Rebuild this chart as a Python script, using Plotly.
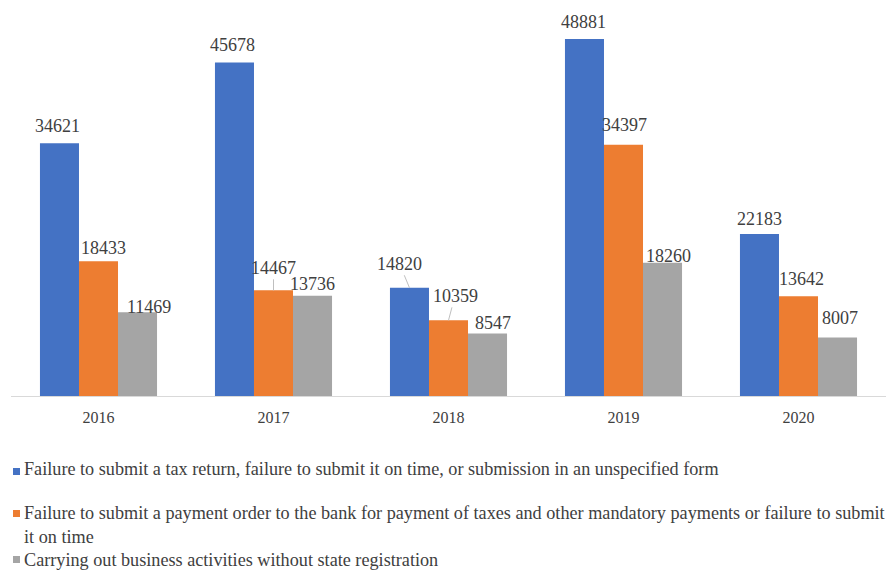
import plotly.graph_objects as go

# ---- data -------------------------------------------------------------
years = ["2016", "2017", "2018", "2019", "2020"]
tax_return = [34621, 45678, 14820, 48881, 22183]
payment_order = [18433, 14467, 10359, 34397, 13642]
no_registration = [11469, 13736, 8547, 18260, 8007]

series_names = [
    "Failure to submit a tax return, failure to submit it on time, or submission in an unspecified form",
    "Failure to submit a payment order to the bank for payment of taxes and other mandatory payments or failure to submit<br>it on time",
    "Carrying out business activities without state registration",
]
series_values = [tax_return, payment_order, no_registration]
colors = ["#4472C4", "#ED7D31", "#A5A5A5"]

# ---- geometry ---------------------------------------------------------
W, H = 888, 570
ML, MR, MT, MB = 11, 2, 20, 174
PW, PH = W - ML - MR, H - MT - MB
BARGAP = 0.331
Y_MAX = 51482
BAR_W = PW / len(years) * (1 - BARGAP) / 3


def px_x(px):
    return (px - ML) / PW


def px_y(py):
    return (H - MB - py) / PH


SERIF = "Liberation Serif"

fig = go.Figure()
for name, vals, col in zip(series_names, series_values, colors):
    fig.add_trace(go.Bar(x=years, y=vals, name=name, marker=dict(color=col, line_width=0),
                         showlegend=False))

# data-label placement (dx, dy in px from bar-top centre to label centre)
label_offsets = [
    [(-1.5, -17), (-1.5, -17.5), (-10, -24), (-0.5, -17), (0, -15)],
    [(5, -13.5), (0, -22.5), (6.5, -24.5), (0.5, -20), (2.5, -17.5)],
    [(11.5, -5.5), (0, -11.5), (5, -10.5), (5.5, -7), (2.5, -19.5)],
]
leader = {(1, 1), (0, 2), (1, 2)}

annotations = []
for si, vals in enumerate(series_values):
    bar_shift = (si - 1) * BAR_W
    for yi, v in enumerate(vals):
        dx, dy = label_offsets[si][yi]
        # category position index on the x axis
        common = dict(x=yi, y=v, xref="x", yref="y", text=str(v),
                      font=dict(family=SERIF, size=18, color="#404040"))
        if (si, yi) in leader:
            annotations.append(dict(**common, showarrow=True, arrowhead=0, arrowwidth=1,
                                    arrowcolor="#BFBFBF", ax=dx, ay=dy, standoff=0,
                                    xshift=bar_shift))
        else:
            annotations.append(dict(**common, showarrow=False, xanchor="center", yanchor="middle",
                                    xshift=bar_shift + dx, yshift=-dy))

# legend rows: (text top, square top, square bottom)
legend_rows = [(457, 468, 475), (501, 510, 517), (548, 556, 563)]
shapes = []
for (top, sq0, sq1), name, col in zip(legend_rows, series_names, colors):
    annotations.append(dict(x=px_x(22), y=px_y(top), xref="paper", yref="paper",
                            xanchor="left", yanchor="top", align="left", showarrow=False,
                            text=name, font=dict(family=SERIF, size=18.2, color="#404040")))
    shapes.append(dict(type="rect", xref="paper", yref="paper",
                       x0=px_x(13), x1=px_x(20), y0=px_y(sq1), y1=px_y(sq0),
                       fillcolor=col, line_width=0))

fig.update_layout(
    width=W, height=H,
    margin=dict(l=ML, r=MR, t=MT, b=MB),
    paper_bgcolor="white", plot_bgcolor="white",
    barmode="group", bargap=BARGAP, bargroupgap=0,
    xaxis=dict(type="category", range=[-0.5, len(years) - 0.5], showline=True,
               linecolor="#D9D9D9", linewidth=1, ticks="", ticklabelstandoff=7,
               tickfont=dict(family=SERIF, size=16, color="#404040"), showgrid=False),
    yaxis=dict(range=[0, Y_MAX], visible=False, showgrid=False),
    annotations=annotations,
    shapes=shapes,
)

fig.write_html("out.html")
